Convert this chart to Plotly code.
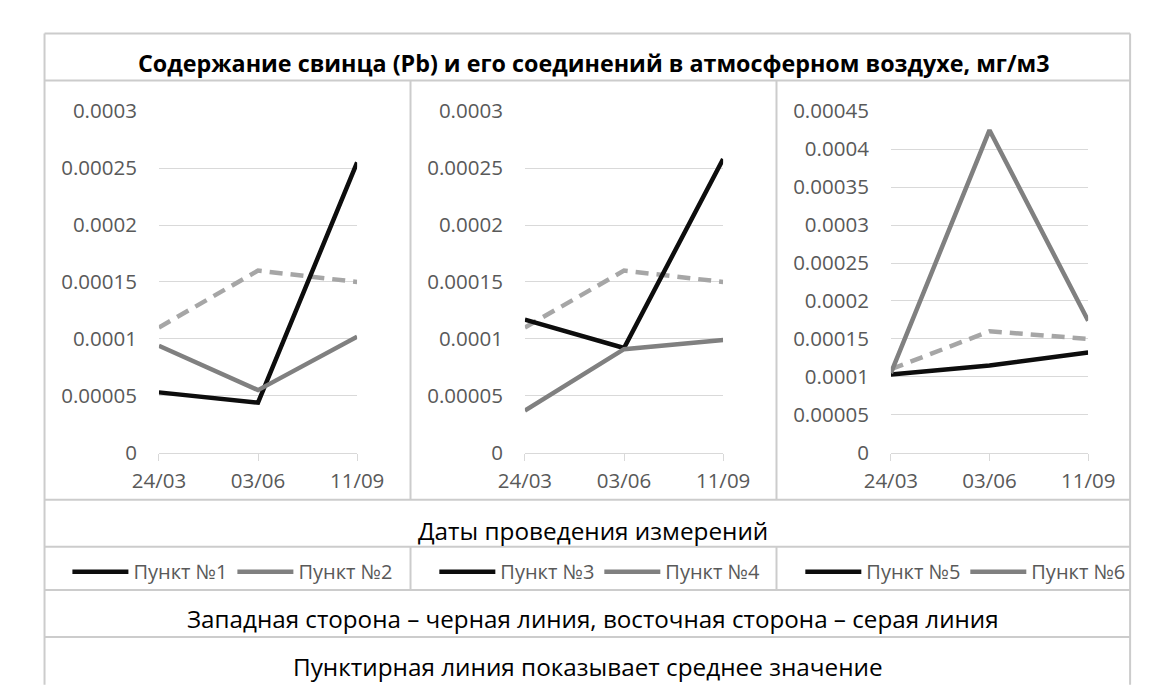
import plotly.graph_objects as go

W, H = 1151, 686

dates = ["24/03", "03/06", "11/09"]
p1 = [0.000053, 0.000044, 0.000255]
p2 = [0.000094, 0.000055, 0.000102]
p3 = [0.000117, 0.000092, 0.000258]
p4 = [0.000037, 0.000091, 0.000099]
p5 = [0.000103, 0.000115, 0.000132]
p6 = [0.000105, 0.000425, 0.000174]
mean_vals = [0.00011, 0.00016, 0.00015]

names = ["Пункт №1", "Пункт №2", "Пункт №3", "Пункт №4", "Пункт №5", "Пункт №6"]
yranges = [[0, 0.0003], [0, 0.0003], [0, 0.00045]]

title_text = "Содержание свинца (Pb) и его соединений в атмосферном воздухе, мг/м3"
xtitle_text = "Даты проведения измерений"
note1 = "Западная сторона – черная линия, восточная сторона – серая линия"
note2 = "Пунктирная линия показывает среднее значение"

BLACK = "#0d0d0d"
GRAY = "#808080"
MEANC = "#a6a6a6"
FONT = "Open Sans"
TICKC = "#595959"
BORDER = "#cccccc"


def px(x):
    return x / W


def py(y):
    return 1 - y / H


xdoms = [(130, 338), (514, 722), (898, 1105)]
ydom = [py(448), py(92)]

fig = go.Figure()
pairs = [(p1, p2), (p3, p4), (p5, p6)]
legends = ["legend", "legend2", "legend3"]
for i, (west, east) in enumerate(pairs):
    xa = "x" if i == 0 else f"x{i+1}"
    ya = "y" if i == 0 else f"y{i+1}"
    fig.add_trace(go.Scatter(x=dates, y=mean_vals, mode="lines", xaxis=xa, yaxis=ya,
                             line=dict(color=MEANC, width=4.5, dash="13px,8px"),
                             showlegend=False, hoverinfo="skip"))
    fig.add_trace(go.Scatter(x=dates, y=west, mode="lines", xaxis=xa, yaxis=ya,
                             name=names[2 * i], legend=legends[i],
                             line=dict(color=BLACK, width=4.5)))
    fig.add_trace(go.Scatter(x=dates, y=east, mode="lines", xaxis=xa, yaxis=ya,
                             name=names[2 * i + 1], legend=legends[i],
                             line=dict(color=GRAY, width=4.5)))

layout = dict(
    width=W, height=H,
    margin=dict(l=0, r=0, t=0, b=0),
    paper_bgcolor="white", plot_bgcolor="white",
    font=dict(family=FONT, color=TICKC),
)
for i, (x0, x1) in enumerate(xdoms):
    sfx = "" if i == 0 else str(i + 1)
    layout["xaxis" + sfx] = dict(
        domain=[px(x0), px(x1)], anchor="y" + sfx, type="category",
        range=[0, 2], showgrid=False, showline=True, linecolor="#d9d9d9",
        linewidth=1, ticks="outside", ticklen=7, tickcolor="#d9d9d9",
        tickfont=dict(size=20.5, color=TICKC, family=FONT), ticklabelstandoff=3,
        fixedrange=True,
    )
    layout["yaxis" + sfx] = dict(
        domain=ydom, anchor="x" + sfx, range=yranges[i], dtick=0.00005, tick0=0,
        tickformat="~g", showgrid=True, gridcolor="#d9d9d9", gridwidth=1,
        zeroline=False, showline=False, ticks="",
        tickfont=dict(size=20.5, color=TICKC, family=FONT), ticklabelstandoff=21,
        fixedrange=True,
    )

leg_x = [34, 419, 803]
for i, lg in enumerate(legends):
    layout[lg] = dict(
        orientation="h", x=px(leg_x[i]), y=py(572), xanchor="left", yanchor="middle",
        font=dict(size=20, color=TICKC, family=FONT), bgcolor="rgba(0,0,0,0)",
        itemwidth=56, tracegroupgap=0,
    )

fig.update_layout(**layout)

shapes = []
def hline(y, x0=10, x1=1149):
    shapes.append(dict(type="line", xref="paper", yref="paper", x0=px(x0), x1=px(x1),
                       y0=py(y), y1=py(y), line=dict(color=BORDER, width=2)))
def vline(x, y0, y1):
    shapes.append(dict(type="line", xref="paper", yref="paper", x0=px(x), x1=px(x),
                       y0=py(y0), y1=py(y1), line=dict(color=BORDER, width=2)))

for y in [11, 60, 497, 546, 591, 640]:
    hline(y)
vline(10, 11, 690)
vline(1149, 11, 690)
for x in [394, 778]:
    vline(x, 60, 497)
    vline(x, 546, 591)
fig.update_layout(shapes=shapes)

ann = [
    dict(text="<b>" + title_text + "</b>", x=px(587), y=py(41.5), size=23.3, color="#000000"),
    dict(text=xtitle_text, x=px(585), y=py(529.5), size=24.3, color="#000000"),
    dict(text=note1, x=px(585), y=py(621), size=24.2, color="#000000"),
    dict(text=note2, x=px(580), y=py(670.5), size=24.3, color="#000000"),
]
for a in ann:
    fig.add_annotation(text=a["text"], x=a["x"], y=a["y"], xref="paper", yref="paper",
                       xanchor="center", yanchor="middle", showarrow=False,
                       font=dict(size=a["size"], color=a["color"], family=FONT))

fig.write_html("out.html")
